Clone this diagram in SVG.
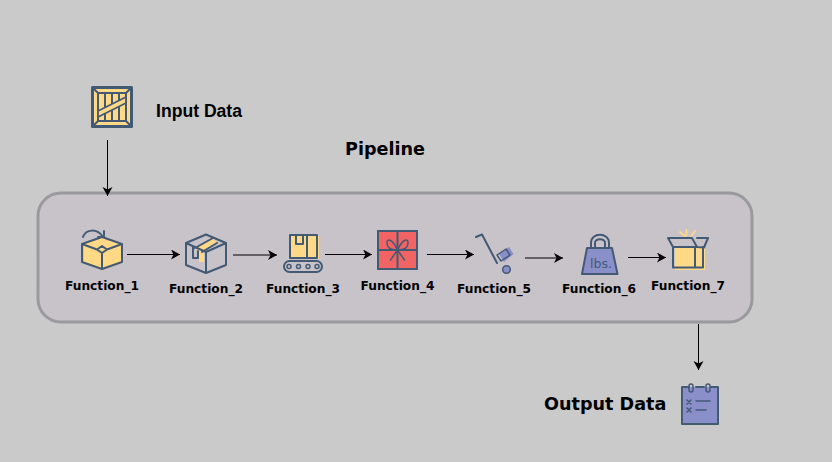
<svg xmlns="http://www.w3.org/2000/svg" width="832" height="462" viewBox="0 0 832 462">
<style>
.ln{fill:none;stroke:#435a75;stroke-width:2;stroke-linejoin:round;stroke-linecap:round}
.yl{fill:#ffd986;stroke:none}
.pu{fill:#8a8fc9;stroke:none}
.fn{font-family:"DejaVu Sans",sans-serif;font-weight:700;font-size:12.200px;fill:#000;text-anchor:middle}
.tl{font-family:"DejaVu Sans",sans-serif;font-weight:700;font-size:17.600px;fill:#000}
.cn{fill:none;stroke:#000;stroke-width:1;marker-end:url(#ah)}
</style>
<defs>
<marker id="ah" markerUnits="userSpaceOnUse" markerWidth="12" markerHeight="12" refX="9" refY="5" orient="auto">
<path d="M0 0L9 5L0 10L2.500 5Z" fill="#000"/>
</marker>
</defs>
<rect width="832" height="462" fill="#cacaca"/>
<g id="pipeline">
<rect x="38" y="193" width="714" height="129" rx="23" fill="#c8c2c9" stroke="#9a9a9e" stroke-width="3"/>
<text class="tl" x="345" y="155">Pipeline</text>
</g>
<g id="connectors">
<path class="cn" d="M107.500 140V196"/>
<path class="cn" d="M127 254.500H180"/>
<path class="cn" d="M233 255H277"/>
<path class="cn" d="M325 254.500H372"/>
<path class="cn" d="M427 254.500H474"/>
<path class="cn" d="M525 258H563"/>
<path class="cn" d="M628 257.500H666"/>
<path class="cn" d="M698.500 324V370"/>
</g>
<g id="input-data">
<rect x="92.500" y="87.500" width="39" height="39" class="yl"/>
<g class="ln">
<rect x="92.500" y="87.500" width="39" height="39" stroke-width="3"/>
<rect x="98" y="93" width="28" height="28"/>
<path d="M92.500 87.500L98 93M131.500 87.500L126 93M92.500 126.500L98 121M131.500 126.500L126 121"/>
<path d="M105 93V121M112 93V121M119 93V121"/>
</g>
<path d="M98 111L126 97V103L98 117Z" fill="#ffd986" stroke="#435a75" stroke-width="1.800" stroke-linejoin="round"/>
<text x="156" y="117" font-family="'Liberation Sans',Arial,sans-serif" font-weight="700" font-size="17.600" fill="#000">Input Data</text>
</g>
<g id="function-1">
<path class="yl" d="M102 237L122 243V263L102 270L84 263V243Z"/>
<path class="ln" d="M102 237L122 244V262L102 269L82 262V244ZM82 244L97 249.500L102 246L107 249.500L122 244M97 249.500L102 253L107 249.500M102 253V269"/>
<path class="ln" d="M83 237C86 229 97 228 103 237M98 237H104V231"/>
<text class="fn" x="102" y="289.500">Function_1</text>
</g>
<g id="function-2">
<path class="yl" d="M195 248L213 238L217 243L204 251V262H199V252Z"/>
<path class="ln" d="M206 234.500L226 243V265L206 273L186 265V243ZM186 243L206 252L226 243M206 252V273M195 248L213 238M202 252L217 243M193 247V258H198V251"/>
<text class="fn" x="206" y="293">Function_2</text>
</g>
<g id="function-3">
<rect class="yl" x="291" y="236" width="28" height="23"/>
<path class="ln" d="M290 258V235H317V258ZM296 235V244H303V235M307 235V258"/>
<rect class="ln" x="284" y="261" width="38" height="11" rx="5.500"/>
<g fill="none" stroke="#435a75" stroke-width="1.500"><circle cx="289" cy="266.500" r="2"/><circle cx="298.500" cy="266.500" r="2"/><circle cx="308" cy="266.500" r="2"/><circle cx="317" cy="266.500" r="2"/></g>
<text class="fn" x="303" y="293">Function_3</text>
</g>
<g id="function-4">
<rect x="378" y="231" width="39" height="38" fill="#f26464" stroke="#435a75" stroke-width="2"/>
<path class="ln" d="M378 250H417M397.500 231V269"/>
<path class="ln" stroke-width="1.500" style="stroke-width:1.500" d="M397.500 250C393 240 387 237 387 243C387 248 392 250 397.500 250C403 250 408 248 408 243C408 237 402 240 397.500 250ZM397.500 250L390.500 260M397.500 250L404.500 260"/>
<text class="fn" x="397.500" y="289.500">Function_4</text>
</g>
<g id="function-5">
<path class="pu" d="M499 254L509 247L513.500 254L504 262Z"/>
<path class="ln" d="M476 237L482 234.500L497 263"/>
<path d="M497 255L506 249L510 255L501 261Z" fill="none" stroke="#435a75" stroke-width="1.500" stroke-linejoin="round"/>
<circle cx="506.500" cy="269.500" r="3.800" fill="#8a8fc9" stroke="#435a75" stroke-width="1.500"/>
<text class="fn" x="494" y="293">Function_5</text>
</g>
<g id="function-6">
<path class="pu" d="M587 248H612L618 274H582Z"/>
<path class="ln" d="M587 248H612L617.500 274H582Z"/>
<path class="ln" d="M591 248V243C591 232 609 232 609 243V248M595 248V243C595 238 605 238 605 243V248"/>
<text x="590" y="268" font-family="'DejaVu Sans',sans-serif" font-size="13" textLength="22" lengthAdjust="spacingAndGlyphs" fill="#435a75">lbs.</text>
<text class="fn" x="599" y="293">Function_6</text>
</g>
<g id="function-7">
<rect class="yl" x="675" y="246" width="30" height="24"/>
<path class="ln" d="M673 247V267.500H703V247M695 247V267.500M668 238H692L697 247H673ZM697 247L704 247.500L708 238H697"/>
<path d="M680 232L685 236M686.500 230V235M695 231L691 236" fill="none" stroke="#ffd986" stroke-width="1.800" stroke-linecap="round"/>
<text class="fn" x="688" y="289.500">Function_7</text>
</g>
<g id="output-data">
<rect class="pu" x="682" y="387" width="36" height="37"/>
<path class="ln" d="M689 387H682V424H718V387H711M696 387H704"/>
<rect class="ln" x="689" y="384" width="4" height="8" rx="2" style="stroke-width:1.500"/>
<rect class="ln" x="706" y="384" width="4" height="8" rx="2" style="stroke-width:1.500"/>
<path class="ln" style="stroke-width:1.500" d="M687 400L691 404M691 400L687 404M687 408L691 412M691 408L687 412M696 401H710M696 410H706"/>
<text class="tl" x="544" y="410">Output Data</text>
</g>
</svg>
